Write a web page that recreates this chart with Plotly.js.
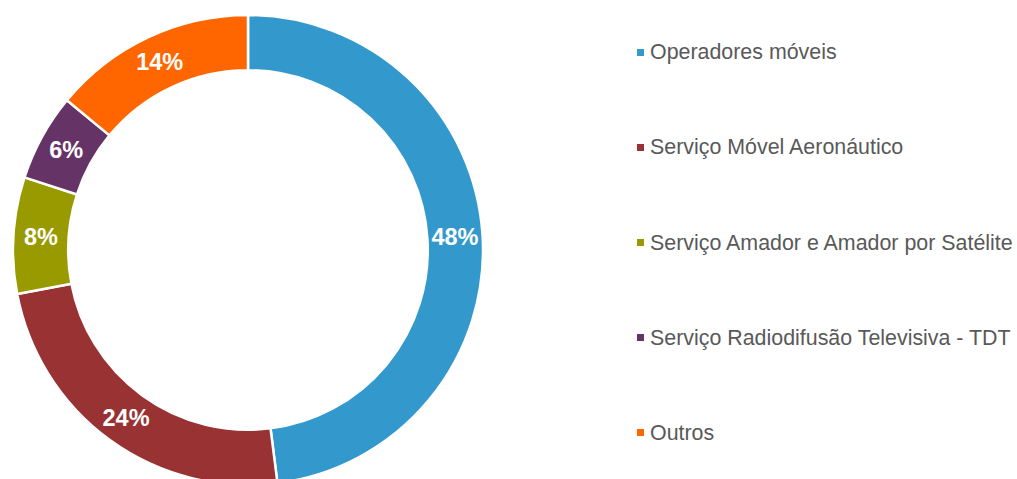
<!DOCTYPE html>
<html>
<head>
<meta charset="utf-8">
<script src="https://cdn.plot.ly/plotly-3.0.1.min.js"></script>
<style>
html,body{margin:0;padding:0;overflow:hidden;background:#fff;}
#chart{width:1017px;height:490px;}
</style>
</head>
<body>
<div id="chart"></div>
<script>
const categories = [
  "Operadores móveis",
  "Serviço Móvel Aeronáutico",
  "Serviço Amador e Amador por Satélite",
  "Serviço Radiodifusão Televisiva - TDT",
  "Outros"
];
const shares = [48, 24, 8, 6, 14];
const colors = ["#3399CC", "#993333", "#999900", "#663366", "#FF6600"];

const W = 1017, H = 490;
const FONT = "'Liberation Sans', Arial, sans-serif";

const trace = {
  type: "pie",
  labels: categories,
  values: shares,
  sort: false,
  direction: "clockwise",
  rotation: 0,
  hole: 0.765,
  marker: {colors: colors, line: {color: "#ffffff", width: 2.5}},
  texttemplate: "%{value}%",
  textposition: "inside",
  insidetextorientation: "horizontal",
  insidetextfont: {family: FONT, size: 23.5, color: "#ffffff", weight: "bold"},
  showlegend: false,
  domain: {x: [13 / W, 483 / W], y: [(H - 485) / H, (H - 15) / H]},
  hoverinfo: "label+percent"
};

// custom legend
const legendX = 637, legendY0 = 52.5, legendStep = 95, mk = 7;
const shapes = [], annotations = [];
categories.forEach((c, i) => {
  const cy = legendY0 + i * legendStep;
  shapes.push({
    type: "rect", xref: "paper", yref: "paper",
    x0: legendX / W, x1: (legendX + mk) / W,
    y0: 1 - (cy + mk / 2) / H, y1: 1 - (cy - mk / 2) / H,
    fillcolor: colors[i], line: {width: 0}
  });
  annotations.push({
    xref: "paper", yref: "paper", x: 648 / W, y: 1 - cy / H,
    xanchor: "left", yanchor: "middle", showarrow: false,
    text: c, font: {family: FONT, size: 21.4, color: "#595959"}
  });
});

const layout = {
  width: W, height: H,
  margin: {l: 0, r: 0, t: 0, b: 0, pad: 0},
  paper_bgcolor: "#ffffff",
  plot_bgcolor: "#ffffff",
  showlegend: false,
  shapes: shapes,
  annotations: annotations,
  uniformtext: {minsize: 23.5, mode: "show"}
};

Plotly.newPlot("chart", [trace], layout, {displayModeBar: false, staticPlot: true});
</script>
</body>
</html>
